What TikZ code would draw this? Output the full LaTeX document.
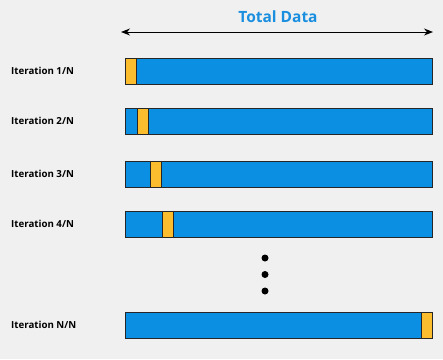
\documentclass[tikz,border=0pt]{standalone}
\usepackage{fontspec}
\setmainfont{Open Sans}
\usetikzlibrary{arrows.meta}
\definecolor{databg}{HTML}{F0F0F0}
\definecolor{datablue}{HTML}{0A8FE3}
\definecolor{foldyellow}{HTML}{FBBD2E}
\definecolor{titleblue}{HTML}{1A8FE0}
\begin{document}
\begin{tikzpicture}[
        x=1pt, y=-1pt,
        bar/.style={rectangle, draw=black!85, line width=1.1pt, fill=datablue, anchor=north west, minimum width=307pt, minimum height=26pt, inner sep=0pt},
        fold/.style={rectangle, draw=black!85, line width=1.1pt, fill=foldyellow, anchor=north west, minimum width=11pt, minimum height=26pt, inner sep=0pt},
        iterlabel/.style={anchor=west, font=\bfseries\fontsize{9.7}{11}\selectfont, inner sep=0pt},
        dot/.style={circle, fill=black, minimum size=7pt, inner sep=0pt}
    ]
        % Nền
        \fill[databg] (0,0) rectangle (443,359);
        \useasboundingbox (0,0) rectangle (443,359);

        % Tiêu đề và mũi tên
        \node[font=\bfseries\fontsize{15.5}{18}\selectfont, text=titleblue] (title) at (278,17) {Total Data};
        \coordinate (arrowL) at (121,32);
        \coordinate (arrowR) at (433,32);
        \draw[{Stealth[length=9pt,width=7pt]}-{Stealth[length=9pt,width=7pt]}, line width=1pt] (arrowL) -- (arrowR);

        % Các vòng lặp
        \node[bar] (bar1) at (125,57.5) {};
        \node[fold] (fold1) at (125,57.5) {};
        \node[iterlabel] (lab1) at (11,70.5) {Iteration 1/N};

        \node[bar] (bar2) at (125,107.5) {};
        \node[fold] (fold2) at (137,107.5) {};
        \node[iterlabel] (lab2) at (11,120.5) {Iteration 2/N};

        \node[bar] (bar3) at (125,160.5) {};
        \node[fold] (fold3) at (149.5,160.5) {};
        \node[iterlabel] (lab3) at (11,173.5) {Iteration 3/N};

        \node[bar] (bar4) at (125,210.5) {};
        \node[fold] (fold4) at (162,210.5) {};
        \node[iterlabel] (lab4) at (11,223.5) {Iteration 4/N};

        % Dấu chấm
        \node[dot] (dot1) at (265,258) {};
        \node[dot] (dot2) at (265,274.5) {};
        \node[dot] (dot3) at (265,291) {};

        \node[bar] (barN) at (125,311.5) {};
        \node[fold] (foldN) at (421,311.5) {};
        \node[iterlabel] (labN) at (11,324.5) {Iteration N/N};
    \end{tikzpicture}
\end{document}
